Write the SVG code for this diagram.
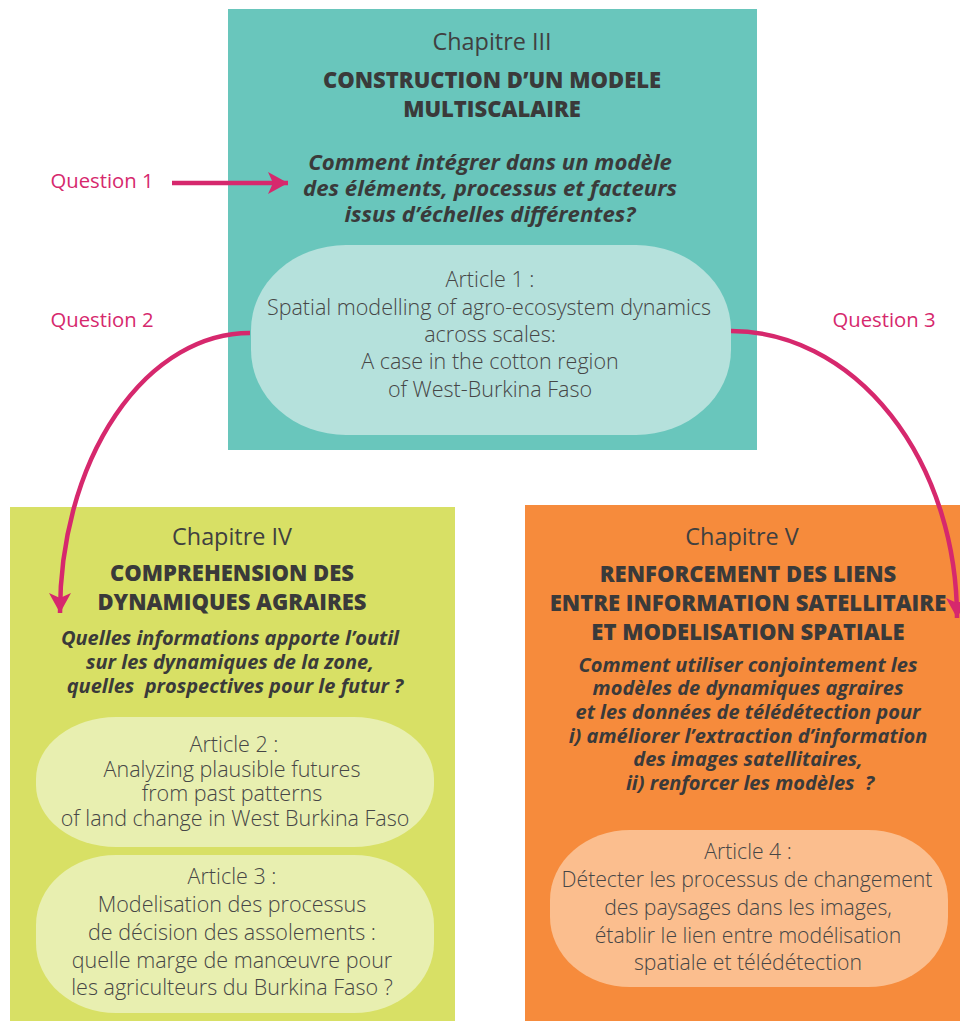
<svg xmlns="http://www.w3.org/2000/svg" width="960" height="1021" viewBox="0 0 960 1021">
<defs>
<style>
text{font-family:"Open Sans","Noto Sans",sans-serif;text-anchor:middle;fill:#3a3a3a}
.q{fill:#d6286d;font-size:20.3px}
.ch{font-size:23.4px;fill:#404040}
.t{font-size:22px;font-weight:800}
.qi{font-size:20px;font-weight:700;font-style:italic}
.qt{font-size:22.2px}
.a{font-size:21.5px;font-weight:300;fill:#464646}
.a4{font-size:21.2px}
.con{fill:none;stroke:#d6286d;stroke-width:4.5}
</style>
<marker id="ah" markerWidth="24" markerHeight="24" refX="20" refY="11" orient="auto" markerUnits="userSpaceOnUse">
<path d="M0,0 L20,11 L0,22 L5,11 Z" fill="#d6286d"/>
</marker>
</defs>
<rect width="960" height="1021" fill="#fff"/>
<g id="chap3">
<rect x="228" y="9" width="529" height="441" fill="#69c6bc"/>
<text class="ch" x="492" y="50">Chapitre III</text>
<text class="t" x="492" y="88">CONSTRUCTION D’UN MODELE</text>
<text class="t" x="492" y="117">MULTISCALAIRE</text>
<text class="qi qt" x="490" y="170">Comment intégrer dans un modèle</text>
<text class="qi qt" x="490" y="196">des éléments, processus et facteurs</text>
<text class="qi qt" x="490" y="222">issus d’échelles différentes?</text>
</g>
<g id="art1">
<rect x="251" y="245" width="480" height="190" rx="95" ry="85" fill="#b5e1dc"/>
<text class="a" x="490" y="287">Article 1 :</text>
<text class="a" x="489" y="315">Spatial modelling of agro-ecosystem dynamics</text>
<text class="a" x="490" y="342">across scales:</text>
<text class="a" x="490" y="369">A case in the cotton region</text>
<text class="a" x="490" y="397">of West-Burkina Faso</text>
</g>
<g id="chap4">
<rect x="10" y="507" width="445" height="514" fill="#d8e065"/>
<text class="ch" x="232" y="545">Chapitre IV</text>
<text class="t" x="232" y="581">COMPREHENSION DES</text>
<text class="t" x="232" y="610">DYNAMIQUES AGRAIRES</text>
<text class="qi" x="230" y="645">Quelles informations apporte l’outil</text>
<text class="qi" x="230" y="669">sur les dynamiques de la zone,</text>
<text class="qi" x="235" y="693" xml:space="preserve">quelles  prospectives pour le futur ?</text>
</g>
<g id="art2">
<rect x="36" y="717" width="398" height="130" rx="80" ry="62" fill="#e8efb0"/>
<text class="a" x="234" y="752">Article 2 :</text>
<text class="a" x="232" y="777">Analyzing plausible futures</text>
<text class="a" x="232" y="801">from past patterns</text>
<text class="a" x="235" y="826">of land change in West Burkina Faso</text>
</g>
<g id="art3">
<rect x="36" y="855" width="398" height="158" rx="80" ry="70" fill="#e8efb0"/>
<text class="a" x="232" y="884">Article 3 :</text>
<text class="a" x="232" y="912">Modelisation des processus</text>
<text class="a" x="232" y="940">de décision des assolements :</text>
<text class="a" x="232" y="968">quelle marge de manœuvre pour</text>
<text class="a" x="232" y="995">les agriculteurs du Burkina Faso ?</text>
</g>
<g id="chap5">
<rect x="525" y="505" width="435" height="516" fill="#f68b3c"/>
<text class="ch" x="742" y="545">Chapitre V</text>
<text class="t" x="748" y="582">RENFORCEMENT DES LIENS</text>
<text class="t" x="748" y="611">ENTRE INFORMATION SATELLITAIRE</text>
<text class="t" x="748" y="640">ET MODELISATION SPATIALE</text>
<text class="qi" x="748" y="672">Comment utiliser conjointement les</text>
<text class="qi" x="748" y="695">modèles de dynamiques agraires</text>
<text class="qi" x="748" y="719">et les données de télédétection pour</text>
<text class="qi" x="748" y="743">i) améliorer l’extraction d’information</text>
<text class="qi" x="748" y="766">des images satellitaires,</text>
<text class="qi" x="750" y="790" xml:space="preserve">ii) renforcer les modèles  ?</text>
</g>
<g id="art4">
<rect x="550" y="830" width="398" height="157" rx="80" ry="70" fill="#fbbe8e"/>
<text class="a a4" x="748" y="859">Article 4 :</text>
<text class="a a4" x="747" y="887">Détecter les processus de changement</text>
<text class="a a4" x="748" y="915">des paysages dans les images,</text>
<text class="a a4" x="748" y="943">établir le lien entre modélisation</text>
<text class="a a4" x="748" y="970">spatiale et télédétection</text>
</g>
<g id="connectors">
<text class="q" x="102" y="188">Question 1</text>
<text class="q" x="102" y="327">Question 2</text>
<text class="q" x="884" y="327">Question 3</text>
<path class="con" d="M172,183 L288,183" marker-end="url(#ah)"/>
<path class="con" d="M250,333 A190,280 0 0 0 60,613" marker-end="url(#ah)"/>
<path class="con" d="M731,331 A226,287 0 0 1 957,618" marker-end="url(#ah)"/>
</g>
</svg>
